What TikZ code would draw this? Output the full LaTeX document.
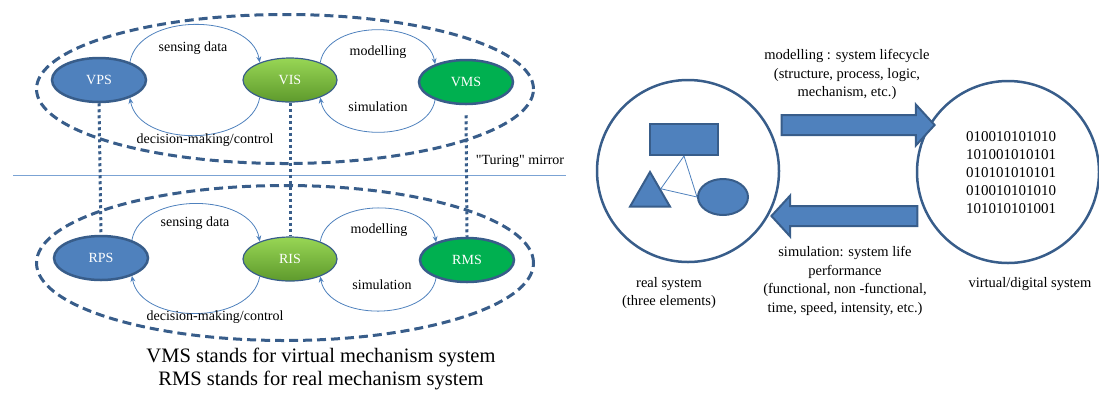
\documentclass[tikz,border=0pt]{standalone}
\usepackage{fontspec}
\setmainfont{Liberation Serif}[Ligatures=TeXOff]
\usetikzlibrary{shapes.geometric,shapes.arrows,arrows.meta}
\definecolor{psblue}{HTML}{4F81BD}
\definecolor{rimblue}{HTML}{385D8A}
\definecolor{msgreen}{HTML}{00B050}
\definecolor{islight}{HTML}{98D655}
\definecolor{isdark}{HTML}{5E9A2C}
\definecolor{mirrorblue}{HTML}{7BA3D4}
\tikzset{
  sysnode/.style={ellipse, draw=rimblue, minimum width=94pt, minimum height=44pt, inner sep=0pt, text=white, font=\fontsize{14}{17}\selectfont},
  ring/.style={ellipse, draw=rimblue, line width=3pt, dash pattern=on 9pt off 5pt, inner sep=0pt, minimum width=497pt},
  flow/.style={draw=psblue, line width=0.8pt, -{Stealth[length=6pt,width=5pt]}},
  lbl/.style={font=\fontsize{14}{17}\selectfont},
  link/.style={draw=rimblue, line width=3pt, dash pattern=on 3pt off 3pt},
  world/.style={circle, draw=rimblue, line width=2.5pt, minimum size=182pt, inner sep=0pt},
  part/.style={fill=psblue, draw=rimblue, line width=2pt, inner sep=0pt},
  tie/.style={draw=psblue, line width=0.8pt},
  blockarrow/.style={single arrow, fill=psblue, draw=rimblue, line width=2pt, inner xsep=0pt, inner ysep=9pt, single arrow head extend=10.5pt, single arrow tip angle=95},
  note/.style={align=center, font=\fontsize{14.5}{18.5}\selectfont}
}
\newcommand{\NodePS}[3][]{\node[sysnode, fill=psblue, line width=2.5pt, #1] (#2) {#3};}
\newcommand{\NodeIS}[3][]{\node[sysnode, top color=islight, middle color=islight, bottom color=isdark, line width=1.2pt, #1] (#2) {#3};}
\newcommand{\NodeMS}[3][]{\node[sysnode, fill=msgreen, line width=2.5pt, #1] (#2) {#3};}

\begin{document}
\begin{tikzpicture}
\useasboundingbox (0,0) rectangle (1099pt,-392pt);
\begin{scope}[x=1pt,y=1pt]
\node[ring, minimum height=149pt] (virtring) at (285,-89) {};
\node[ring, minimum height=155pt] (realring) at (285,-263) {};

\NodePS[at={(99,-80)}]{VPS}{VPS}
\NodeIS[at={(290,-80)}]{VIS}{VIS}
\NodeMS[at={(466,-82)}]{VMS}{VMS}
\NodePS[at={(101,-258)}]{RPS}{RPS}
\NodeIS[at={(290,-259)}]{RIS}{RIS}
\NodeMS[at={(467,-260)}]{RMS}{RMS}

\draw[flow] (VPS.30) to[out=80,in=100] (VIS.150);
\draw[flow] (VIS.210) to[out=260,in=280] (VPS.330);
\draw[flow] (VIS.30) to[out=80,in=100] (VMS.150);
\draw[flow] (VMS.210) to[out=260,in=280] (VIS.330);
\draw[flow] (RPS.30) to[out=80,in=100] (RIS.150);
\draw[flow] (RIS.210) to[out=260,in=280] (RPS.330);
\draw[flow] (RIS.30) to[out=80,in=100] (RMS.150);
\draw[flow] (RMS.210) to[out=260,in=280] (RIS.330);

\node[lbl] (vsense) at (193,-48) {sensing data};
\node[lbl] (vdecide) at (205,-140) {decision-making/control};
\node[lbl] (vmodel) at (378,-52) {modelling};
\node[lbl] (vsim) at (378,-107) {simulation};
\node[lbl] (rsense) at (195,-223) {sensing data};
\node[lbl] (rdecide) at (215,-317) {decision-making/control};
\node[lbl] (rmodel) at (379,-230) {modelling};
\node[lbl] (rsim) at (382,-285) {simulation};

\coordinate (mirrorL) at (13,-175);
\coordinate (mirrorR) at (566,-175);
\draw[draw=mirrorblue, line width=1pt] (mirrorL) -- (mirrorR);
\node[lbl] (turing) at (520,-161) {"Turing" mirror};

\draw[link] (VPS.south) -- (RPS.north);
\draw[link] (VIS.south) -- (RIS.north);
\draw[link] ([yshift=-10pt]VMS.south) -- (RMS.north);

\node[align=center, font=\fontsize{20.5}{23}\selectfont] (legend) at (321,-368.5) {VMS stands for virtual mechanism system\\RMS stands for real mechanism system};

\node[world] (real) at (688,-171) {};
\node[world] (digital) at (1008,-172) {};
\node[part, minimum width=68pt, minimum height=31pt] (box) at (684,-139.5) {};
\node[part, regular polygon, regular polygon sides=3, minimum size=46pt] (tri) at (650,-195) {};
\node[part, ellipse, minimum width=50pt, minimum height=36pt] (oval) at (723,-197) {};
\draw[tie] (box.south) -- (tri.side 3);
\draw[tie] (box.south) -- (oval.west);
\draw[tie] (tri.side 3) -- (oval.west);

\node[blockarrow, minimum height=153pt] (fwd) at (853.5,-125) {};
\node[blockarrow, minimum height=146pt, shape border rotate=180] (back) at (849,-216) {};

\node[note] (modtxt) at (847,-74.5) {modelling : system lifecycle\\(structure, process, logic,\\mechanism, etc.)};
\node[note] (simtxt) at (845,-281) {simulation: system life\\performance\\(functional, non -functional,\\time, speed, intensity, etc.)};
\node[align=center, font=\fontsize{15}{18}\selectfont] (bits) at (1011,-173) {010010101010\\101001010101\\010101010101\\010010101010\\101010101001};
\node[note] (realtxt) at (669,-293) {real system\\(three elements)};
\node[note] (digtxt) at (1030,-284) {virtual/digital system};
\end{scope}
\end{tikzpicture}
\end{document}
